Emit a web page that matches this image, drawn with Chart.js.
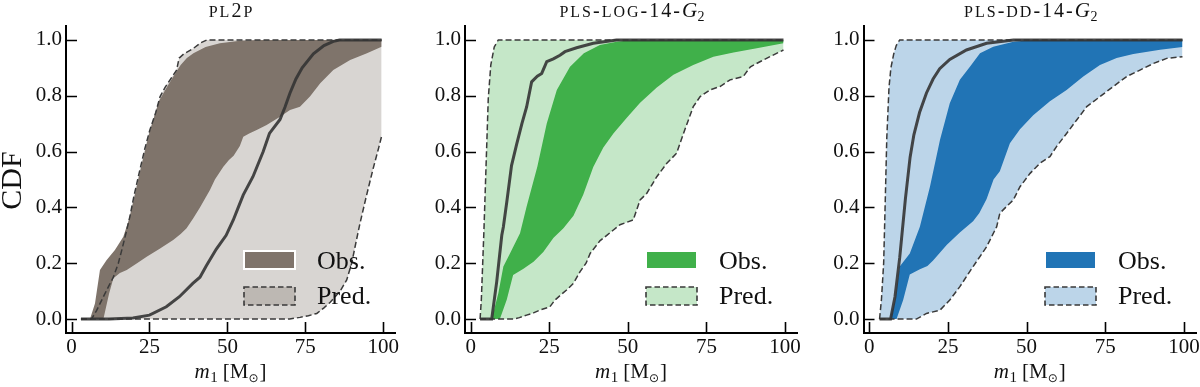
<!DOCTYPE html>
<html>
<head>
<meta charset="utf-8">
<script src="https://cdn.jsdelivr.net/npm/chart.js@4.4.0/dist/chart.umd.min.js"></script>
<style>
  body { margin: 0; background: #fff; }
  #wrap { display: flex; width: 1200px; height: 387px; }
  canvas { display: block; }
</style>
</head>
<body>
<div id="wrap">
  <canvas id="c0" width="400" height="387"></canvas>
  <canvas id="c1" width="400" height="387"></canvas>
  <canvas id="c2" width="400" height="387"></canvas>
</div>
<script>
// ticks
const xTicks = [0, 25, 50, 75, 100];
const yTicks = [0, 0.2, 0.4, 0.6, 0.8, 1.0];
const legendLabels = ["Obs.", "Pred."];

// PL2P  ([m1, CDF] pairs)
const pl2pPredHi = [[3,0],[6.4,0],[8,0.03],[10.2,0.08],[12,0.12],[13.4,0.15],[15,0.2],[16.1,0.247],[17.5,0.31],[18.7,0.367],[20,0.44],[21.9,0.534],[23.5,0.61],[25.1,0.677],[27,0.74],[28.4,0.797],[30,0.83],[31.6,0.857],[33.7,0.892],[34.5,0.935],[36,0.95],[39.1,0.97],[41.5,0.99],[43.4,1],[99.5,1]];
const pl2pPredLo = [[3,0],[70,0],[73.3,0.006],[76,0.012],[78.7,0.02],[81,0.04],[83,0.06],[85,0.085],[86.2,0.1],[88.3,0.14],[89.9,0.2],[91,0.26],[92.5,0.34],[94.6,0.44],[96.8,0.54],[98.6,0.615],[99.5,0.655]];
const pl2pObsHi = [[3,0],[5.9,0],[7.5,0.056],[9.1,0.176],[11.2,0.211],[13.9,0.247],[16.6,0.295],[18.5,0.36],[20,0.43],[22,0.53],[25,0.67],[28,0.78],[30.5,0.83],[33,0.875],[35,0.91],[37,0.935],[39.1,0.952],[43,0.975],[47.6,0.988],[54,0.997],[60,1],[99.5,1]];
const pl2pObsLo = [[3,0],[10.2,0],[12,0.09],[13.4,0.146],[15.5,0.165],[17.7,0.176],[21,0.2],[24.1,0.223],[28.4,0.253],[32.6,0.283],[35,0.305],[36.9,0.325],[39,0.36],[41.2,0.4],[44.4,0.462],[46,0.5],[48.7,0.546],[50.5,0.57],[52,0.585],[54,0.62],[55.1,0.653],[57,0.665],[59.4,0.677],[62.6,0.695],[66.9,0.725],[70.1,0.749],[73.3,0.761],[76.5,0.797],[79.8,0.845],[84,0.892],[89.4,0.928],[94.8,0.952],[99.5,0.976]];
const pl2pMedian = [[3,0],[12,0],[19.7,0.004],[25,0.014],[30.4,0.044],[34.6,0.08],[38.9,0.128],[41.2,0.15],[43.2,0.19],[46.4,0.25],[49.6,0.3],[51.9,0.355],[53.5,0.4],[55.1,0.445],[58.2,0.51],[61.5,0.6],[63.5,0.665],[66.9,0.715],[68.5,0.76],[70.1,0.81],[72,0.86],[74,0.9],[77.6,0.95],[81,0.98],[84,0.995],[86,1],[99.5,1]];

// PLS-LOG-14-G2
const logPredHi = [[3,0],[3.4,0.07],[4.2,0.31],[4.9,0.55],[5.6,0.79],[6.4,0.91],[7.5,0.975],[8.8,1],[99.5,1]];
const logPredLo = [[3,0],[13.6,0],[15.5,0.005],[17.8,0.014],[20,0.022],[22,0.032],[25.2,0.044],[26.8,0.068],[28.5,0.085],[30.5,0.104],[32.7,0.128],[34.8,0.17],[36.7,0.2],[38,0.235],[41.1,0.28],[43.3,0.3],[45.4,0.319],[47.5,0.338],[51.7,0.355],[53.9,0.427],[56,0.45],[59.2,0.51],[62.4,0.558],[65.5,0.594],[67.7,0.665],[70.8,0.761],[73,0.797],[76.1,0.821],[79.3,0.833],[82.5,0.857],[86.7,0.869],[89,0.904],[92,0.922],[95.2,0.94],[99.5,0.964]];
const logObsHi = [[3,0],[6.7,0],[8.8,0.092],[10.4,0.188],[12.5,0.235],[15.7,0.307],[17.8,0.403],[21.2,0.546],[24.2,0.701],[27.4,0.821],[31.6,0.904],[36,0.952],[41.1,0.982],[46.4,0.994],[51.7,1],[99.5,1]];
const logObsLo = [[3,0],[9.3,0],[11.5,0.07],[13.5,0.158],[16.8,0.18],[20,0.205],[23.1,0.24],[26.3,0.29],[29.5,0.325],[32.7,0.37],[35.8,0.445],[39,0.545],[42.2,0.615],[45.4,0.665],[49.6,0.72],[53.9,0.775],[59.2,0.83],[64.5,0.875],[70.8,0.91],[77.2,0.94],[83.6,0.955],[91,0.97],[99.5,0.988]];
const logMedian = [[3,0],[6.7,0],[8.3,0.135],[9.9,0.3],[10.4,0.33],[11.5,0.42],[13,0.55],[14.6,0.625],[16.3,0.7],[17.8,0.76],[19.4,0.85],[21.2,0.87],[22.6,0.88],[24.2,0.922],[26.3,0.932],[28.4,0.945],[30,0.958],[33.7,0.972],[39,0.988],[46.4,1],[99.5,1]];

// PLS-DD-14-G2
const ddPredHi = [[3.3,0],[3.9,0.07],[4.6,0.2],[5.1,0.42],[5.6,0.65],[6.3,0.83],[6.9,0.9],[7.8,0.95],[8.6,0.98],[9.7,1],[99.5,1]];
const ddPredLo = [[3.3,0],[15,0],[18.2,0.02],[22.5,0.032],[25.6,0.068],[28.8,0.116],[33,0.188],[37.3,0.259],[40.5,0.331],[41.5,0.379],[43.6,0.403],[45.8,0.427],[47.9,0.474],[51.1,0.522],[54.2,0.558],[57.4,0.582],[59.5,0.618],[62.7,0.665],[65.9,0.713],[69.1,0.761],[73.3,0.797],[77.5,0.833],[81.8,0.869],[86,0.892],[90.3,0.916],[94.5,0.934],[99.5,0.94]];
const ddObsHi = [[3.3,0],[6.6,0],[8.2,0.068],[9.7,0.188],[12.9,0.235],[16.1,0.331],[19.3,0.474],[22.5,0.642],[25.6,0.773],[28.8,0.857],[32,0.904],[35.2,0.952],[39.4,0.976],[45.8,0.994],[52.1,1],[99.5,1]];
const ddObsLo = [[3.3,0],[8.7,0],[10.8,0.068],[12.9,0.16],[16.1,0.178],[18.5,0.19],[20.3,0.21],[24.6,0.265],[28.8,0.31],[33,0.35],[35,0.38],[37.3,0.43],[39.5,0.5],[41.5,0.53],[44.7,0.63],[47.9,0.68],[52.1,0.73],[57.4,0.78],[62.7,0.821],[68,0.869],[73.3,0.91],[78.6,0.935],[83.9,0.95],[92.4,0.965],[99.5,0.975]];
const ddMedian = [[3.3,0],[6.8,0],[8.2,0.08],[9.7,0.22],[11.5,0.43],[13,0.58],[14.2,0.66],[16,0.74],[18.2,0.81],[20.3,0.86],[22.4,0.897],[25.6,0.93],[30.9,0.964],[37.3,0.988],[45.8,1],[99.5,1]];

const SERIF = "'Liberation Serif', 'Times New Roman', serif";
const LINE = "#3a3a3a";

const panels = [
  { id: "c0", title: "pl2p", color: [127, 116, 107], predHi: pl2pPredHi, predLo: pl2pPredLo, obsHi: pl2pObsHi, obsLo: pl2pObsLo, median: pl2pMedian, left: 66, right: 395, ylabel: true },
  { id: "c1", title: "pls-log-14-", script: true, color: [64, 176, 74], predHi: logPredHi, predLo: logPredLo, obsHi: logObsHi, obsLo: logObsLo, median: logMedian, left: 65, right: 397, ylabel: false },
  { id: "c2", title: "pls-dd-14-", script: true, color: [33, 116, 181], predHi: ddPredHi, predLo: ddPredLo, obsHi: ddObsHi, obsLo: ddObsLo, median: ddMedian, left: 63.5, right: 396, ylabel: false },
];

function rgba(c, a) { return `rgba(${c[0]},${c[1]},${c[2]},${a})`; }
function pts(arr) { return arr.map(([x, y]) => ({ x, y })); }

// draw a row of text pieces with their own fonts, centred on cx
function drawRich(ctx, parts, cx, y) {
  let total = 0;
  parts.forEach((p) => {
    ctx.font = p.font;
    p.w = ctx.measureText(p.text).width + (p.gap || 0);
    total += p.w;
  });
  let x = cx - total / 2;
  ctx.textAlign = "left";
  ctx.textBaseline = "alphabetic";
  parts.forEach((p) => {
    ctx.font = p.font;
    ctx.fillText(p.text, x, y + (p.dy || 0));
    x += p.w;
  });
}

function titleParts(p) {
  const size = 20;
  const parts = [];
  for (const ch of p.title) {
    if (/[a-z]/.test(ch)) parts.push({ text: ch.toUpperCase(), font: `${Math.round(size * 0.8)}px ${SERIF}`, gap: 2 });
    else parts.push({ text: ch, font: `${size}px ${SERIF}`, gap: 2 });
  }
  if (p.script) {
    parts.push({ text: "G", font: `italic ${size + 1}px ${SERIF}`, gap: 0.5 });
    parts.push({ text: "2", font: `${size - 6}px ${SERIF}`, dy: 4 });
  }
  return parts;
}

const xLabelParts = [
  { text: "m", font: `italic 21px ${SERIF}`, gap: 0.5 },
  { text: "1", font: `15px ${SERIF}`, dy: 4, gap: 5 },
  { text: "[M", font: `21px ${SERIF}` },
  { text: "\u2299", font: `12px 'DejaVu Sans'`, dy: 4, gap: 1 },
  { text: "]", font: `21px ${SERIF}` },
];

function decorPlugin(p) {
  return {
    id: "decor",
    afterDraw(chart) {
      const { ctx, chartArea: a, scales } = chart;
      ctx.save();
      // inward ticks
      ctx.strokeStyle = "#000";
      ctx.lineWidth = 1.6;
      ctx.beginPath();
      xTicks.forEach((v) => {
        const px = Math.round(scales.x.getPixelForValue(v)) + 0.5;
        ctx.moveTo(px, a.bottom);
        ctx.lineTo(px, a.bottom - 11);
      });
      yTicks.forEach((v) => {
        const py = Math.round(scales.y.getPixelForValue(v)) + 0.5;
        ctx.moveTo(a.left, py);
        ctx.lineTo(a.left + 11, py);
      });
      ctx.stroke();

      ctx.fillStyle = "#111";
      const cx = (a.left + a.right) / 2;
      drawRich(ctx, titleParts(p), cx + 1, 16.5);
      drawRich(ctx, xLabelParts, cx, 378);

      if (p.ylabel) {
        ctx.save();
        ctx.translate(21, (a.top + a.bottom) / 2 + 1);
        ctx.rotate(-Math.PI / 2);
        ctx.font = `30px ${SERIF}`;
        ctx.textAlign = "center";
        ctx.textBaseline = "alphabetic";
        ctx.fillText("CDF", 0, 0);
        ctx.restore();
      }

      // legend
      const lx = a.right - 151;
      const ly = a.bottom - 82;
      ctx.fillStyle = rgba(p.color, 1);
      ctx.fillRect(lx, ly, 51, 18);
      ctx.strokeStyle = "#fff";
      ctx.lineWidth = 2;
      ctx.strokeRect(lx, ly, 51, 18);
      ctx.fillStyle = rgba(p.color, 0.3);
      ctx.fillRect(lx, ly + 36, 51, 18);
      ctx.strokeStyle = LINE;
      ctx.lineWidth = 1.6;
      ctx.setLineDash([5.5, 3]);
      ctx.strokeRect(lx, ly + 36, 51, 18);
      ctx.setLineDash([]);
      ctx.fillStyle = "#111";
      ctx.font = `26px ${SERIF}`;
      ctx.textAlign = "left";
      ctx.textBaseline = "alphabetic";
      ctx.fillText(legendLabels[0], lx + 73, ly + 18);
      ctx.fillText(legendLabels[1], lx + 73, ly + 53);
      ctx.restore();
    },
  };
}

function makeChart(p) {
  const none = "rgba(0,0,0,0)";
  new Chart(document.getElementById(p.id), {
    type: "line",
    data: {
      datasets: [
        { data: pts(p.median), borderColor: "rgba(52,52,52,0.9)", borderWidth: 3, fill: false, order: 0 },
        { data: pts(p.predHi), borderColor: LINE, borderWidth: 1.5, borderDash: [6, 3], fill: false, order: 1 },
        { data: pts(p.predLo), borderColor: LINE, borderWidth: 1.5, borderDash: [6, 3], fill: false, order: 1 },
        { data: pts(p.obsHi), borderColor: none, borderWidth: 0, backgroundColor: rgba(p.color, 1), fill: 4, order: 2 },
        { data: pts(p.obsLo), borderColor: none, borderWidth: 0, fill: false, order: 2 },
        { data: pts(p.predHi), borderColor: none, borderWidth: 0, backgroundColor: rgba(p.color, 0.3), fill: 6, order: 3 },
        { data: pts(p.predLo), borderColor: none, borderWidth: 0, fill: false, order: 3 },
      ],
    },
    options: {
      responsive: false,
      animation: false,
      events: [],
      layout: { padding: { left: 0, right: 400 - p.right, top: 26, bottom: 0 } },
      elements: { point: { radius: 0 }, line: { tension: 0 } },
      plugins: { legend: { display: false }, tooltip: { enabled: false }, title: { display: false } },
      scales: {
        x: {
          type: "linear",
          min: -1.8,
          max: 103.8,
          grid: { display: false, drawTicks: false },
          border: { display: true, color: "#000", width: 2 },
          ticks: { font: { family: SERIF, size: 21 }, color: "#111", padding: 2, maxRotation: 0 },
          afterBuildTicks: (s) => { s.ticks = xTicks.map((v) => ({ value: v })); },
          afterFit: (s) => { s.height = 54; s.paddingLeft = 0; s.paddingRight = 0; },
        },
        y: {
          type: "linear",
          min: -0.05,
          max: 1.05,
          grid: { display: false, drawTicks: false },
          border: { display: true, color: "#000", width: 2 },
          ticks: { font: { family: SERIF, size: 21 }, color: "#111", padding: 4, callback: (v) => v.toFixed(1) },
          afterBuildTicks: (s) => { s.ticks = yTicks.map((v) => ({ value: v })); },
          afterFit: (s) => { s.width = p.left; s.paddingTop = 0; s.paddingBottom = 0; },
        },
      },
    },
    plugins: [decorPlugin(p)],
  });
}

panels.forEach(makeChart);
</script>
</body>
</html>
